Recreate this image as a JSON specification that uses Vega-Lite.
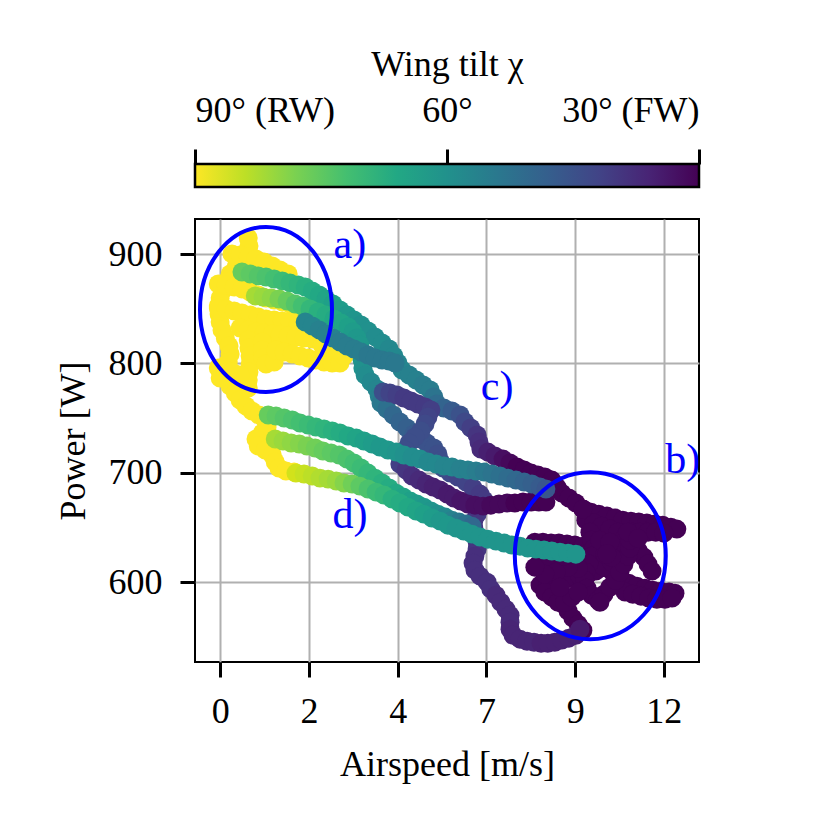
{
"$schema": "https://vega.github.io/schema/vega-lite/v6.json",
"background": "white",
"padding": {"left": 54, "top": 45, "right": 5, "bottom": 5},
"config": {
  "font": "Liberation Serif",
  "view": {"stroke": "black", "strokeWidth": 2},
  "axis": {"labelFont": "Liberation Serif", "titleFont": "Liberation Serif", "labelFontSize": 36, "titleFontSize": 36, "titleFontWeight": "normal", "labelColor": "black", "titleColor": "black", "tickColor": "black", "tickSize": 15, "tickWidth": 3, "gridColor": "#b0b0b0", "gridWidth": 2, "gridOpacity": 1, "domain": false}
},
"spacing": 27,
"resolve": {"scale": {"x": "independent", "y": "independent", "color": "independent"}},
"vconcat": [
{
  "width": 504, "height": 23,
  "data": {"values": [{"lo": 90, "hi": 30}]},
  "mark": {"type": "rect", "stroke": "black", "strokeWidth": 2.5, "fill": {"gradient": "linear", "x1": 0, "y1": 0, "x2": 1, "y2": 0, "stops": [
    {"offset": 0, "color": "#fde725"}, {"offset": 0.1, "color": "#bddf26"}, {"offset": 0.2, "color": "#7ad151"}, {"offset": 0.3, "color": "#44bf70"}, {"offset": 0.4, "color": "#22a884"}, {"offset": 0.5, "color": "#21918c"}, {"offset": 0.6, "color": "#2a788e"}, {"offset": 0.7, "color": "#355f8d"}, {"offset": 0.8, "color": "#414487"}, {"offset": 0.9, "color": "#482475"}, {"offset": 1, "color": "#440154"}]}},
  "encoding": {
    "x": {"field": "lo", "type": "quantitative", "scale": {"domain": [30, 90], "reverse": true, "nice": false, "zero": false},
      "axis": {"orient": "top", "values": [90, 60, 30], "labelExpr": "datum.value == 90 ? '90° (RW)' : (datum.value == 60 ? '60°' : '30° (FW)')", "grid": false, "title": "Wing tilt χ", "labelPadding": 20, "titlePadding": 9}},
    "x2": {"field": "hi"}
  }
},
{
  "width": 504, "height": 443,
  "layer": [
  {
    "data": {"values": [
{"speed":0.76,"power":914.7,"tilt":90},{"speed":0.78,"power":907.4,"tilt":90},{"speed":0.76,"power":900.1,"tilt":90},{"speed":0.62,"power":893.7,"tilt":90},{"speed":0.43,"power":888.2,"tilt":90},{"speed":0.27,"power":881.8,"tilt":90},{"speed":0.16,"power":874.5,"tilt":90},{"speed":0.08,"power":867.2,"tilt":90},{"speed":0,"power":859.8,"tilt":90},{"speed":-0.05,"power":852.5,"tilt":90},{"speed":-0.03,"power":845.2,"tilt":90},{"speed":0,"power":837.9,"tilt":90},{"speed":0.05,"power":830.6,"tilt":90},{"speed":0.14,"power":823.2,"tilt":90},{"speed":0.24,"power":815.9,"tilt":90},{"speed":0.27,"power":808.6,"tilt":90},{"speed":0.22,"power":801.3,"tilt":90},{"speed":0.16,"power":794.0,"tilt":90},{"speed":0.19,"power":786.6,"tilt":90},{"speed":0.27,"power":779.3,"tilt":90},{"speed":0.41,"power":772.9,"tilt":90},{"speed":0.54,"power":766.5,"tilt":90},{"speed":0.70,"power":761.0,"tilt":90},{"speed":0.86,"power":756.4,"tilt":90},{"speed":1.05,"power":752.8,"tilt":90},{"speed":1.22,"power":748.2,"tilt":90},{"speed":1.27,"power":741.8,"tilt":90},{"speed":1.14,"power":736.3,"tilt":90},{"speed":0.97,"power":730.8,"tilt":90},{"speed":1.03,"power":724.4,"tilt":90},{"speed":1.22,"power":720.8,"tilt":90},{"speed":1.41,"power":716.2,"tilt":90},{"speed":1.49,"power":709.8,"tilt":90},{"speed":1.59,"power":704.3,"tilt":90},{"speed":1.78,"power":701.6,"tilt":90},{"speed":2.00,"power":700.6,"tilt":90},
{"speed":0.32,"power":900.1,"tilt":90},{"speed":0.54,"power":899.2,"tilt":90},{"speed":0.76,"power":897.3,"tilt":90},{"speed":0.97,"power":895.5,"tilt":90},{"speed":1.19,"power":892.8,"tilt":90},{"speed":1.41,"power":889.1,"tilt":90},{"speed":1.62,"power":885.5,"tilt":90},{"speed":1.84,"power":881.8,"tilt":90},
{"speed":-0.05,"power":872.6,"tilt":90},{"speed":0.16,"power":871.7,"tilt":90},{"speed":0.38,"power":869.9,"tilt":90},{"speed":0.59,"power":868.1,"tilt":90},{"speed":0.81,"power":865.3,"tilt":90},{"speed":1.03,"power":862.6,"tilt":90},{"speed":1.24,"power":859.8,"tilt":90},{"speed":1.46,"power":858.0,"tilt":90},{"speed":1.68,"power":856.2,"tilt":90},{"speed":1.89,"power":854.3,"tilt":90},{"speed":2.11,"power":852.5,"tilt":90},{"speed":2.32,"power":850.7,"tilt":90},
{"speed":-0.05,"power":850.7,"tilt":90},{"speed":0.16,"power":849.8,"tilt":90},{"speed":0.38,"power":847.9,"tilt":90},{"speed":0.59,"power":846.1,"tilt":90},{"speed":0.81,"power":844.3,"tilt":90},{"speed":1.03,"power":842.4,"tilt":90},{"speed":1.24,"power":840.6,"tilt":90},{"speed":1.46,"power":839.7,"tilt":90},{"speed":1.68,"power":838.8,"tilt":90},{"speed":1.89,"power":837.9,"tilt":90},{"speed":2.11,"power":836.0,"tilt":90},{"speed":2.32,"power":834.2,"tilt":90},{"speed":2.49,"power":831.5,"tilt":90},
{"speed":0.54,"power":832.4,"tilt":90},{"speed":0.76,"power":830.6,"tilt":90},{"speed":0.97,"power":828.7,"tilt":90},{"speed":1.19,"power":827.8,"tilt":90},{"speed":1.41,"power":826.9,"tilt":90},{"speed":1.62,"power":826.0,"tilt":90},{"speed":1.84,"power":825.1,"tilt":90},{"speed":2.05,"power":824.2,"tilt":90},{"speed":2.27,"power":823.2,"tilt":90},{"speed":2.49,"power":822.3,"tilt":90},{"speed":2.70,"power":821.4,"tilt":90},
{"speed":0.76,"power":821.4,"tilt":90},{"speed":0.78,"power":814.1,"tilt":90},{"speed":0.81,"power":806.8,"tilt":90},{"speed":0.81,"power":799.4,"tilt":90},{"speed":0.78,"power":792.1,"tilt":90},{"speed":0.76,"power":784.8,"tilt":90},{"speed":0.76,"power":777.5,"tilt":90},
{"speed":1.14,"power":819.6,"tilt":90},{"speed":1.14,"power":812.3,"tilt":90},{"speed":1.16,"power":804.9,"tilt":90},{"speed":1.24,"power":799.4,"tilt":90},{"speed":1.46,"power":801.3,"tilt":90},
{"speed":1.51,"power":812.3,"tilt":90},{"speed":1.73,"power":810.4,"tilt":90},{"speed":1.95,"power":808.6,"tilt":90},{"speed":2.16,"power":806.8,"tilt":90},{"speed":2.38,"power":804.9,"tilt":90},{"speed":2.59,"power":803.1,"tilt":90},{"speed":2.81,"power":801.3,"tilt":90},{"speed":3.03,"power":800.4,"tilt":90},{"speed":3.24,"power":800.4,"tilt":90},{"speed":3.35,"power":806.8,"tilt":90},{"speed":3.19,"power":812.3,"tilt":90},{"speed":2.97,"power":815.0,"tilt":90},{"speed":2.76,"power":816.8,"tilt":90},
{"speed":-0.05,"power":795.8,"tilt":90},{"speed":0.32,"power":792.1,"tilt":90},{"speed":0.54,"power":789.4,"tilt":90},{"speed":0,"power":786.6,"tilt":90},
{"speed":9.81,"power":666.8,"tilt":30},{"speed":10.03,"power":664.0,"tilt":30},{"speed":10.24,"power":662.2,"tilt":30},{"speed":10.46,"power":660.4,"tilt":30},{"speed":10.68,"power":658.6,"tilt":30},{"speed":10.89,"power":656.7,"tilt":30},{"speed":11.11,"power":655.8,"tilt":30},{"speed":11.32,"power":654.9,"tilt":30},{"speed":11.54,"power":654.0,"tilt":30},{"speed":11.76,"power":653.1,"tilt":30},{"speed":11.97,"power":652.1,"tilt":30},{"speed":12.19,"power":650.3,"tilt":30},{"speed":12.35,"power":648.5,"tilt":30},
{"speed":10.27,"power":647.6,"tilt":30},{"speed":10.49,"power":646.7,"tilt":30},{"speed":10.70,"power":645.7,"tilt":30},{"speed":10.92,"power":644.8,"tilt":30},{"speed":11.14,"power":645.7,"tilt":30},{"speed":11.35,"power":645.7,"tilt":30},{"speed":11.57,"power":645.7,"tilt":30},{"speed":11.78,"power":645.7,"tilt":30},{"speed":12.00,"power":644.8,"tilt":30},
{"speed":9.89,"power":656.7,"tilt":30},{"speed":10.11,"power":654.0,"tilt":30},{"speed":10.32,"power":651.2,"tilt":30},{"speed":10.54,"power":648.5,"tilt":30},{"speed":10.76,"power":645.7,"tilt":30},{"speed":10.95,"power":641.2,"tilt":30},{"speed":11.14,"power":635.7,"tilt":30},{"speed":11.30,"power":629.3,"tilt":30},{"speed":11.46,"power":622.9,"tilt":30},{"speed":11.57,"power":616.5,"tilt":30},{"speed":11.68,"power":610.1,"tilt":30},
{"speed":8.51,"power":636.6,"tilt":30},{"speed":8.73,"power":636.6,"tilt":30},{"speed":8.95,"power":635.7,"tilt":30},{"speed":9.16,"power":635.7,"tilt":30},{"speed":9.38,"power":634.8,"tilt":30},{"speed":9.59,"power":633.9,"tilt":30},{"speed":9.81,"power":632.9,"tilt":30},{"speed":10.03,"power":632.0,"tilt":30},{"speed":10.24,"power":631.1,"tilt":30},{"speed":10.46,"power":631.1,"tilt":30},{"speed":10.68,"power":631.1,"tilt":30},{"speed":10.89,"power":631.1,"tilt":30},
{"speed":10.27,"power":618.3,"tilt":30},{"speed":10.46,"power":612.8,"tilt":30},{"speed":10.65,"power":607.3,"tilt":30},{"speed":10.84,"power":602.7,"tilt":30},{"speed":11.05,"power":599.1,"tilt":30},{"speed":11.27,"power":596.3,"tilt":30},{"speed":11.49,"power":594.5,"tilt":30},{"speed":11.70,"power":592.7,"tilt":30},{"speed":11.92,"power":591.8,"tilt":30},{"speed":12.14,"power":590.9,"tilt":30},{"speed":12.30,"power":589.9,"tilt":30},
{"speed":10.95,"power":590.9,"tilt":30},{"speed":11.16,"power":589.0,"tilt":30},{"speed":11.38,"power":587.2,"tilt":30},{"speed":11.59,"power":585.4,"tilt":30},{"speed":11.81,"power":584.4,"tilt":30},{"speed":12.03,"power":584.4,"tilt":30},{"speed":12.22,"power":585.4,"tilt":30},
{"speed":8.65,"power":597.3,"tilt":30},{"speed":8.86,"power":598.2,"tilt":30},{"speed":9.08,"power":600.0,"tilt":30},{"speed":9.30,"power":601.8,"tilt":30},{"speed":9.51,"power":603.7,"tilt":30},{"speed":9.73,"power":605.5,"tilt":30},{"speed":9.95,"power":607.3,"tilt":30},{"speed":10.16,"power":610.1,"tilt":30},{"speed":10.38,"power":613.7,"tilt":30},{"speed":10.59,"power":618.3,"tilt":30},
{"speed":9.08,"power":585.4,"tilt":30},{"speed":9.27,"power":579.9,"tilt":30},{"speed":9.41,"power":573.5,"tilt":30},{"speed":9.54,"power":567.1,"tilt":30},{"speed":9.68,"power":561.6,"tilt":30},{"speed":9.81,"power":556.1,"tilt":30},
{"speed":10.00,"power":645.7,"tilt":30},{"speed":10.05,"power":638.4,"tilt":30},{"speed":10.11,"power":631.1,"tilt":30},{"speed":10.05,"power":623.8,"tilt":30},{"speed":9.97,"power":616.5,"tilt":30},{"speed":9.89,"power":609.1,"tilt":30},{"speed":9.86,"power":601.8,"tilt":30},{"speed":9.92,"power":594.5,"tilt":30},{"speed":10.05,"power":588.1,"tilt":30},{"speed":10.22,"power":583.5,"tilt":30},{"speed":10.38,"power":589.0,"tilt":30},{"speed":10.54,"power":595.4,"tilt":30},{"speed":10.70,"power":601.8,"tilt":30},{"speed":10.81,"power":609.1,"tilt":30},{"speed":10.92,"power":616.5,"tilt":30},{"speed":11.03,"power":623.8,"tilt":30},{"speed":11.08,"power":631.1,"tilt":30},{"speed":11.08,"power":638.4,"tilt":30},{"speed":11.03,"power":645.7,"tilt":30},
{"speed":9.46,"power":627.4,"tilt":30},{"speed":9.59,"power":620.1,"tilt":30},{"speed":9.68,"power":612.8,"tilt":30},{"speed":9.19,"power":618.3,"tilt":30},{"speed":9.41,"power":613.7,"tilt":30},{"speed":10.41,"power":625.6,"tilt":30},{"speed":10.59,"power":622.9,"tilt":30},{"speed":10.27,"power":638.4,"tilt":30},{"speed":10.54,"power":636.6,"tilt":30},{"speed":8.97,"power":618.3,"tilt":30},
{"speed":8.78,"power":590.9,"tilt":30},{"speed":8.97,"power":586.3,"tilt":30},{"speed":9.14,"power":581.7,"tilt":30},{"speed":9.32,"power":581.7,"tilt":30},{"speed":9.51,"power":586.3,"tilt":30},{"speed":9.68,"power":590.9,"tilt":30},
{"speed":8.65,"power":618.3,"tilt":30},{"speed":8.86,"power":612.8,"tilt":30},{"speed":9.08,"power":609.1,"tilt":30},{"speed":8.78,"power":607.3,"tilt":30},{"speed":8.51,"power":613.7,"tilt":30},{"speed":9.19,"power":595.4,"tilt":30},{"speed":9.30,"power":624.0,"tilt":30},{"speed":10.27,"power":581.7,"tilt":30},{"speed":10.46,"power":626.0,"tilt":30},{"speed":11.30,"power":640.0,"tilt":30},
{"speed":0.59,"power":883.6,"tilt":76},{"speed":0.81,"power":881.8,"tilt":75},{"speed":1.03,"power":880.0,"tilt":74},{"speed":1.24,"power":879.0,"tilt":73},{"speed":1.46,"power":877.2,"tilt":72},{"speed":1.68,"power":875.4,"tilt":71},{"speed":1.89,"power":873.6,"tilt":70},{"speed":2.11,"power":871.7,"tilt":69},{"speed":2.30,"power":869.9,"tilt":68},{"speed":2.49,"power":866.2,"tilt":67},{"speed":2.68,"power":862.6,"tilt":66},{"speed":2.86,"power":858.9,"tilt":65},{"speed":3.05,"power":854.3,"tilt":64},{"speed":3.24,"power":848.9,"tilt":63},{"speed":3.43,"power":844.3,"tilt":62},{"speed":3.62,"power":839.7,"tilt":61},{"speed":3.81,"power":835.1,"tilt":60},{"speed":4.00,"power":829.6,"tilt":60},{"speed":4.19,"power":824.2,"tilt":59},{"speed":4.38,"power":818.7,"tilt":59},{"speed":4.57,"power":813.2,"tilt":58},{"speed":4.70,"power":806.8,"tilt":58},{"speed":4.81,"power":800.4,"tilt":57},{"speed":4.92,"power":794.0,"tilt":57},{"speed":5.11,"power":789.4,"tilt":56},{"speed":5.30,"power":784.8,"tilt":56},{"speed":5.49,"power":780.2,"tilt":55},{"speed":5.68,"power":775.7,"tilt":55},{"speed":5.78,"power":769.3,"tilt":53},{"speed":5.86,"power":762.9,"tilt":51},{"speed":6.05,"power":759.2,"tilt":49},{"speed":6.27,"power":756.4,"tilt":47},{"speed":6.49,"power":752.8,"tilt":45},{"speed":6.62,"power":746.4,"tilt":43},{"speed":6.78,"power":740.9,"tilt":41},{"speed":6.95,"power":734.5,"tilt":39},{"speed":7.00,"power":728.1,"tilt":38},{"speed":7.05,"power":721.7,"tilt":37},{"speed":7.24,"power":718.9,"tilt":35},{"speed":7.43,"power":715.3,"tilt":34},{"speed":7.65,"power":712.5,"tilt":32},{"speed":7.84,"power":708.9,"tilt":31},{"speed":8.03,"power":705.2,"tilt":30},{"speed":8.22,"power":702.5,"tilt":30},{"speed":8.41,"power":699.7,"tilt":30},{"speed":8.59,"power":697.9,"tilt":30},{"speed":8.78,"power":696.1,"tilt":30},{"speed":8.97,"power":693.3,"tilt":30},{"speed":9.11,"power":686.9,"tilt":30},{"speed":9.24,"power":681.4,"tilt":30},{"speed":9.43,"power":676.9,"tilt":30},{"speed":9.62,"power":672.3,"tilt":30},{"speed":9.81,"power":666.8,"tilt":30},
{"speed":0.95,"power":861.7,"tilt":82},{"speed":1.16,"power":860.7,"tilt":81},{"speed":1.38,"power":859.8,"tilt":80},{"speed":1.59,"power":858.9,"tilt":78},{"speed":1.81,"power":857.1,"tilt":76},{"speed":2.03,"power":854.3,"tilt":74},{"speed":2.22,"power":852.5,"tilt":72},{"speed":2.43,"power":849.8,"tilt":70},{"speed":2.65,"power":847.0,"tilt":68},{"speed":2.86,"power":844.3,"tilt":67},{"speed":3.08,"power":840.6,"tilt":66},{"speed":3.27,"power":837.0,"tilt":65},{"speed":3.46,"power":833.3,"tilt":64},{"speed":3.59,"power":828.7,"tilt":63},{"speed":3.70,"power":823.2,"tilt":62},{"speed":3.78,"power":816.8,"tilt":62},{"speed":3.81,"power":810.4,"tilt":61},{"speed":3.84,"power":803.1,"tilt":61},{"speed":3.86,"power":795.8,"tilt":60},{"speed":3.92,"power":789.4,"tilt":59},{"speed":4.08,"power":783.0,"tilt":58},{"speed":4.24,"power":776.6,"tilt":57},{"speed":4.30,"power":770.2,"tilt":56},{"speed":4.35,"power":763.8,"tilt":54},{"speed":4.51,"power":758.3,"tilt":52},{"speed":4.68,"power":752.8,"tilt":50},{"speed":4.86,"power":746.4,"tilt":49},{"speed":5.05,"power":740.9,"tilt":48},{"speed":5.24,"power":735.4,"tilt":47},{"speed":5.41,"power":730.8,"tilt":46},{"speed":5.59,"power":727.2,"tilt":45},{"speed":5.78,"power":722.6,"tilt":45},{"speed":5.89,"power":717.1,"tilt":44},{"speed":5.95,"power":710.7,"tilt":44},{"speed":6.03,"power":704.3,"tilt":44},{"speed":6.22,"power":699.7,"tilt":43},{"speed":6.43,"power":696.1,"tilt":42},{"speed":6.65,"power":691.5,"tilt":42},{"speed":6.84,"power":686.0,"tilt":41},{"speed":7.03,"power":680.5,"tilt":40},{"speed":7.14,"power":675.0,"tilt":40},{"speed":7.05,"power":668.6,"tilt":40},{"speed":6.95,"power":662.2,"tilt":40},{"speed":6.86,"power":655.8,"tilt":39},{"speed":6.86,"power":649.4,"tilt":39},{"speed":6.92,"power":643.0,"tilt":39},{"speed":6.95,"power":636.6,"tilt":39},{"speed":6.95,"power":630.2,"tilt":39},{"speed":6.89,"power":623.8,"tilt":38},{"speed":6.84,"power":617.4,"tilt":38},{"speed":6.89,"power":611.0,"tilt":38},{"speed":7.03,"power":605.5,"tilt":38},{"speed":7.22,"power":600.0,"tilt":38},{"speed":7.32,"power":593.6,"tilt":38},{"speed":7.46,"power":588.1,"tilt":37},{"speed":7.59,"power":581.7,"tilt":37},{"speed":7.73,"power":575.3,"tilt":37},{"speed":7.84,"power":569.8,"tilt":37},{"speed":7.84,"power":563.4,"tilt":37},{"speed":7.84,"power":557.0,"tilt":36},{"speed":7.92,"power":551.5,"tilt":36},{"speed":8.11,"power":547.9,"tilt":36},{"speed":8.30,"power":546.0,"tilt":36},{"speed":8.49,"power":545.1,"tilt":36},{"speed":8.68,"power":544.2,"tilt":35},{"speed":8.86,"power":544.2,"tilt":35},{"speed":9.05,"power":545.1,"tilt":35},{"speed":9.24,"power":547.0,"tilt":35},{"speed":9.43,"power":548.8,"tilt":35},{"speed":9.62,"power":551.5,"tilt":35},{"speed":9.73,"power":557.0,"tilt":34},
{"speed":2.30,"power":837.9,"tilt":57},{"speed":2.49,"power":834.2,"tilt":57},{"speed":2.68,"power":830.6,"tilt":56},{"speed":2.86,"power":826.9,"tilt":56},{"speed":3.05,"power":823.2,"tilt":56},{"speed":3.24,"power":819.6,"tilt":55},{"speed":3.43,"power":815.9,"tilt":55},{"speed":3.62,"power":813.2,"tilt":55},{"speed":3.81,"power":810.4,"tilt":55},{"speed":4.00,"power":807.7,"tilt":54},{"speed":4.19,"power":804.9,"tilt":54},{"speed":4.38,"power":803.1,"tilt":54},{"speed":4.57,"power":802.2,"tilt":54},{"speed":4.73,"power":800.4,"tilt":54},
{"speed":4.41,"power":773.8,"tilt":44},{"speed":4.59,"power":772.9,"tilt":42},{"speed":4.78,"power":771.1,"tilt":41},{"speed":4.97,"power":768.3,"tilt":40},{"speed":5.16,"power":765.6,"tilt":40},{"speed":5.35,"power":762.9,"tilt":40},{"speed":5.54,"power":760.1,"tilt":40},{"speed":5.70,"power":757.4,"tilt":41},{"speed":5.62,"power":751.0,"tilt":42},{"speed":5.54,"power":744.6,"tilt":43},{"speed":5.43,"power":738.2,"tilt":44},{"speed":5.27,"power":732.7,"tilt":44},{"speed":5.11,"power":727.2,"tilt":44},{"speed":5.00,"power":720.8,"tilt":44},{"speed":4.92,"power":714.4,"tilt":43},{"speed":4.86,"power":708.0,"tilt":41},{"speed":5.03,"power":702.5,"tilt":39},{"speed":5.19,"power":697.0,"tilt":38},{"speed":5.38,"power":693.3,"tilt":37},{"speed":5.57,"power":689.7,"tilt":36},{"speed":5.76,"power":686.9,"tilt":35},{"speed":5.95,"power":684.2,"tilt":35},{"speed":6.14,"power":680.5,"tilt":34},{"speed":6.32,"power":676.9,"tilt":34},{"speed":6.51,"power":674.1,"tilt":33},{"speed":6.70,"power":671.4,"tilt":33},{"speed":6.89,"power":670.4,"tilt":32},{"speed":7.11,"power":669.5,"tilt":32},{"speed":7.32,"power":670.4,"tilt":31},{"speed":7.54,"power":671.4,"tilt":31},{"speed":7.76,"power":672.3,"tilt":31},{"speed":7.97,"power":672.3,"tilt":30},{"speed":8.19,"power":673.2,"tilt":30},{"speed":8.41,"power":673.2,"tilt":30},{"speed":8.62,"power":673.2,"tilt":30},{"speed":8.81,"power":673.2,"tilt":30},
{"speed":1.30,"power":752.8,"tilt":76},{"speed":1.51,"power":751.9,"tilt":75},{"speed":1.73,"power":750.0,"tilt":74},{"speed":1.95,"power":748.2,"tilt":73},{"speed":2.16,"power":745.5,"tilt":72},{"speed":2.38,"power":743.6,"tilt":71},{"speed":2.59,"power":741.8,"tilt":70},{"speed":2.81,"power":740.0,"tilt":69},{"speed":3.03,"power":738.2,"tilt":68},{"speed":3.24,"power":736.3,"tilt":67},{"speed":3.46,"power":733.6,"tilt":66},{"speed":3.68,"power":731.7,"tilt":65},{"speed":3.89,"power":729.0,"tilt":64},{"speed":4.11,"power":726.3,"tilt":63},{"speed":4.32,"power":723.5,"tilt":62},{"speed":4.54,"power":720.8,"tilt":62},{"speed":4.76,"power":718.9,"tilt":61},{"speed":4.97,"power":716.2,"tilt":60},{"speed":5.19,"power":714.4,"tilt":59},{"speed":5.41,"power":712.5,"tilt":59},{"speed":5.62,"power":709.8,"tilt":58},{"speed":5.84,"power":708.0,"tilt":58},{"speed":6.05,"power":706.1,"tilt":57},{"speed":6.27,"power":705.2,"tilt":57},{"speed":6.49,"power":703.4,"tilt":56},{"speed":6.70,"power":702.5,"tilt":56},{"speed":6.92,"power":701.6,"tilt":55},{"speed":7.14,"power":700.6,"tilt":54},{"speed":7.35,"power":698.8,"tilt":53},{"speed":7.57,"power":697.0,"tilt":52},{"speed":7.78,"power":695.1,"tilt":51},{"speed":8.00,"power":693.3,"tilt":50},{"speed":8.22,"power":691.5,"tilt":49},{"speed":8.43,"power":689.7,"tilt":48},{"speed":8.65,"power":686.9,"tilt":47},{"speed":8.81,"power":685.1,"tilt":46},
{"speed":1.49,"power":730.8,"tilt":82},{"speed":1.70,"power":729.0,"tilt":81},{"speed":1.92,"power":727.2,"tilt":80},{"speed":2.14,"power":726.3,"tilt":79},{"speed":2.35,"power":724.4,"tilt":78},{"speed":2.57,"power":722.6,"tilt":77},{"speed":2.78,"power":719.9,"tilt":76},{"speed":3.00,"power":718.0,"tilt":75},{"speed":3.22,"power":716.2,"tilt":74},{"speed":3.43,"power":712.5,"tilt":73},{"speed":3.62,"power":708.9,"tilt":72},{"speed":3.81,"power":704.3,"tilt":71},{"speed":4.00,"power":699.7,"tilt":70},{"speed":4.19,"power":695.1,"tilt":69},{"speed":4.38,"power":690.6,"tilt":68},{"speed":4.57,"power":686.0,"tilt":67},{"speed":4.76,"power":681.4,"tilt":66},{"speed":4.95,"power":677.8,"tilt":65},{"speed":5.14,"power":674.1,"tilt":64},{"speed":5.32,"power":671.4,"tilt":63},{"speed":5.51,"power":668.6,"tilt":62},{"speed":5.70,"power":665.0,"tilt":61},{"speed":5.89,"power":662.2,"tilt":60},{"speed":6.08,"power":659.5,"tilt":58},{"speed":6.27,"power":656.7,"tilt":56},{"speed":6.46,"power":654.9,"tilt":54},{"speed":6.65,"power":653.1,"tilt":52},{"speed":6.81,"power":651.2,"tilt":50},
{"speed":2.05,"power":699.7,"tilt":86},{"speed":2.27,"power":698.8,"tilt":85},{"speed":2.49,"power":697.0,"tilt":84},{"speed":2.70,"power":695.1,"tilt":83},{"speed":2.92,"power":694.2,"tilt":82},{"speed":3.14,"power":692.4,"tilt":81},{"speed":3.35,"power":690.6,"tilt":79},{"speed":3.57,"power":689.7,"tilt":77},{"speed":3.78,"power":687.8,"tilt":75},{"speed":4.00,"power":685.1,"tilt":73},{"speed":4.22,"power":682.3,"tilt":71},{"speed":4.43,"power":679.6,"tilt":70},{"speed":4.65,"power":675.9,"tilt":68},{"speed":4.86,"power":672.3,"tilt":67},{"speed":5.08,"power":668.6,"tilt":66},{"speed":5.30,"power":665.0,"tilt":65},{"speed":5.51,"power":662.2,"tilt":64},{"speed":5.73,"power":658.6,"tilt":63},{"speed":5.95,"power":655.8,"tilt":62},{"speed":6.16,"power":652.1,"tilt":62},{"speed":6.38,"power":649.4,"tilt":61},{"speed":6.59,"power":646.7,"tilt":61},{"speed":6.81,"power":643.9,"tilt":61},{"speed":7.03,"power":641.2,"tilt":61},{"speed":7.24,"power":639.3,"tilt":61},{"speed":7.46,"power":637.5,"tilt":61},{"speed":7.68,"power":635.7,"tilt":61},{"speed":7.89,"power":633.9,"tilt":61},{"speed":8.11,"power":632.9,"tilt":61},{"speed":8.32,"power":631.1,"tilt":61},{"speed":8.54,"power":630.2,"tilt":61},{"speed":8.76,"power":629.3,"tilt":61},{"speed":8.97,"power":628.4,"tilt":61},{"speed":9.19,"power":627.4,"tilt":61},{"speed":9.41,"power":626.5,"tilt":61},{"speed":9.62,"power":625.6,"tilt":61}
    ]},
    "mark": {"type": "circle", "size": 360, "opacity": 1},
    "encoding": {
      "x": {"field": "speed", "type": "quantitative", "scale": {"domain": [-0.68, 12.95], "nice": false, "zero": false},
        "axis": {"values": [0, 2.4, 4.8, 7.2, 9.6, 12], "labelExpr": "floor(datum.value)", "title": "Airspeed [m/s]", "labelPadding": 17, "titlePadding": 18}},
      "y": {"field": "power", "type": "quantitative", "scale": {"domain": [527, 932], "nice": false, "zero": false},
        "axis": {"values": [600, 700, 800, 900], "title": "Power [W]", "labelPadding": 18, "titlePadding": 16}},
      "color": {"field": "tilt", "type": "quantitative", "scale": {"scheme": "viridis", "domain": [30, 90]}, "legend": null}
    }
  },
  {
    "data": {"values": [{"speed": 1.24, "power": 849.3}]},
    "mark": {"type": "point", "shape": "M 0.8 0 C 0.8 0.5523 0.4418 1 0 1 C -0.4418 1 -0.8 0.5523 -0.8 0 C -0.8 -0.5523 -0.4418 -1 0 -1 C 0.4418 -1 0.8 -0.5523 0.8 0 Z", "size": 27225, "filled": false, "stroke": "#0000ff", "strokeWidth": 4, "opacity": 1},
    "encoding": {"x": {"field": "speed", "type": "quantitative"}, "y": {"field": "power", "type": "quantitative"}}
  },
  {
    "data": {"values": [{"speed": 10.01, "power": 624.2}]},
    "mark": {"type": "point", "shape": "M 0.904 0 C 0.904 0.5523 0.4993 1 0 1 C -0.4993 1 -0.904 0.5523 -0.904 0 C -0.904 -0.5523 -0.4993 -1 0 -1 C 0.4993 -1 0.904 -0.5523 0.904 0 Z", "size": 27889, "filled": false, "stroke": "#0000ff", "strokeWidth": 4, "opacity": 1},
    "encoding": {"x": {"field": "speed", "type": "quantitative"}, "y": {"field": "power", "type": "quantitative"}}
  },
  {
    "data": {"values": [{"speed": 3.51, "power": 908.3, "label": "a)"}, {"speed": 12.51, "power": 711.6, "label": "b)"}, {"speed": 7.49, "power": 778.4, "label": "c)"}, {"speed": 3.51, "power": 661.3, "label": "d)"}]},
    "mark": {"type": "text", "fontSize": 42, "color": "#0000ff", "font": "Liberation Serif"},
    "encoding": {"x": {"field": "speed", "type": "quantitative"}, "y": {"field": "power", "type": "quantitative"}, "text": {"field": "label"}}
  }
  ]
}
]
}
